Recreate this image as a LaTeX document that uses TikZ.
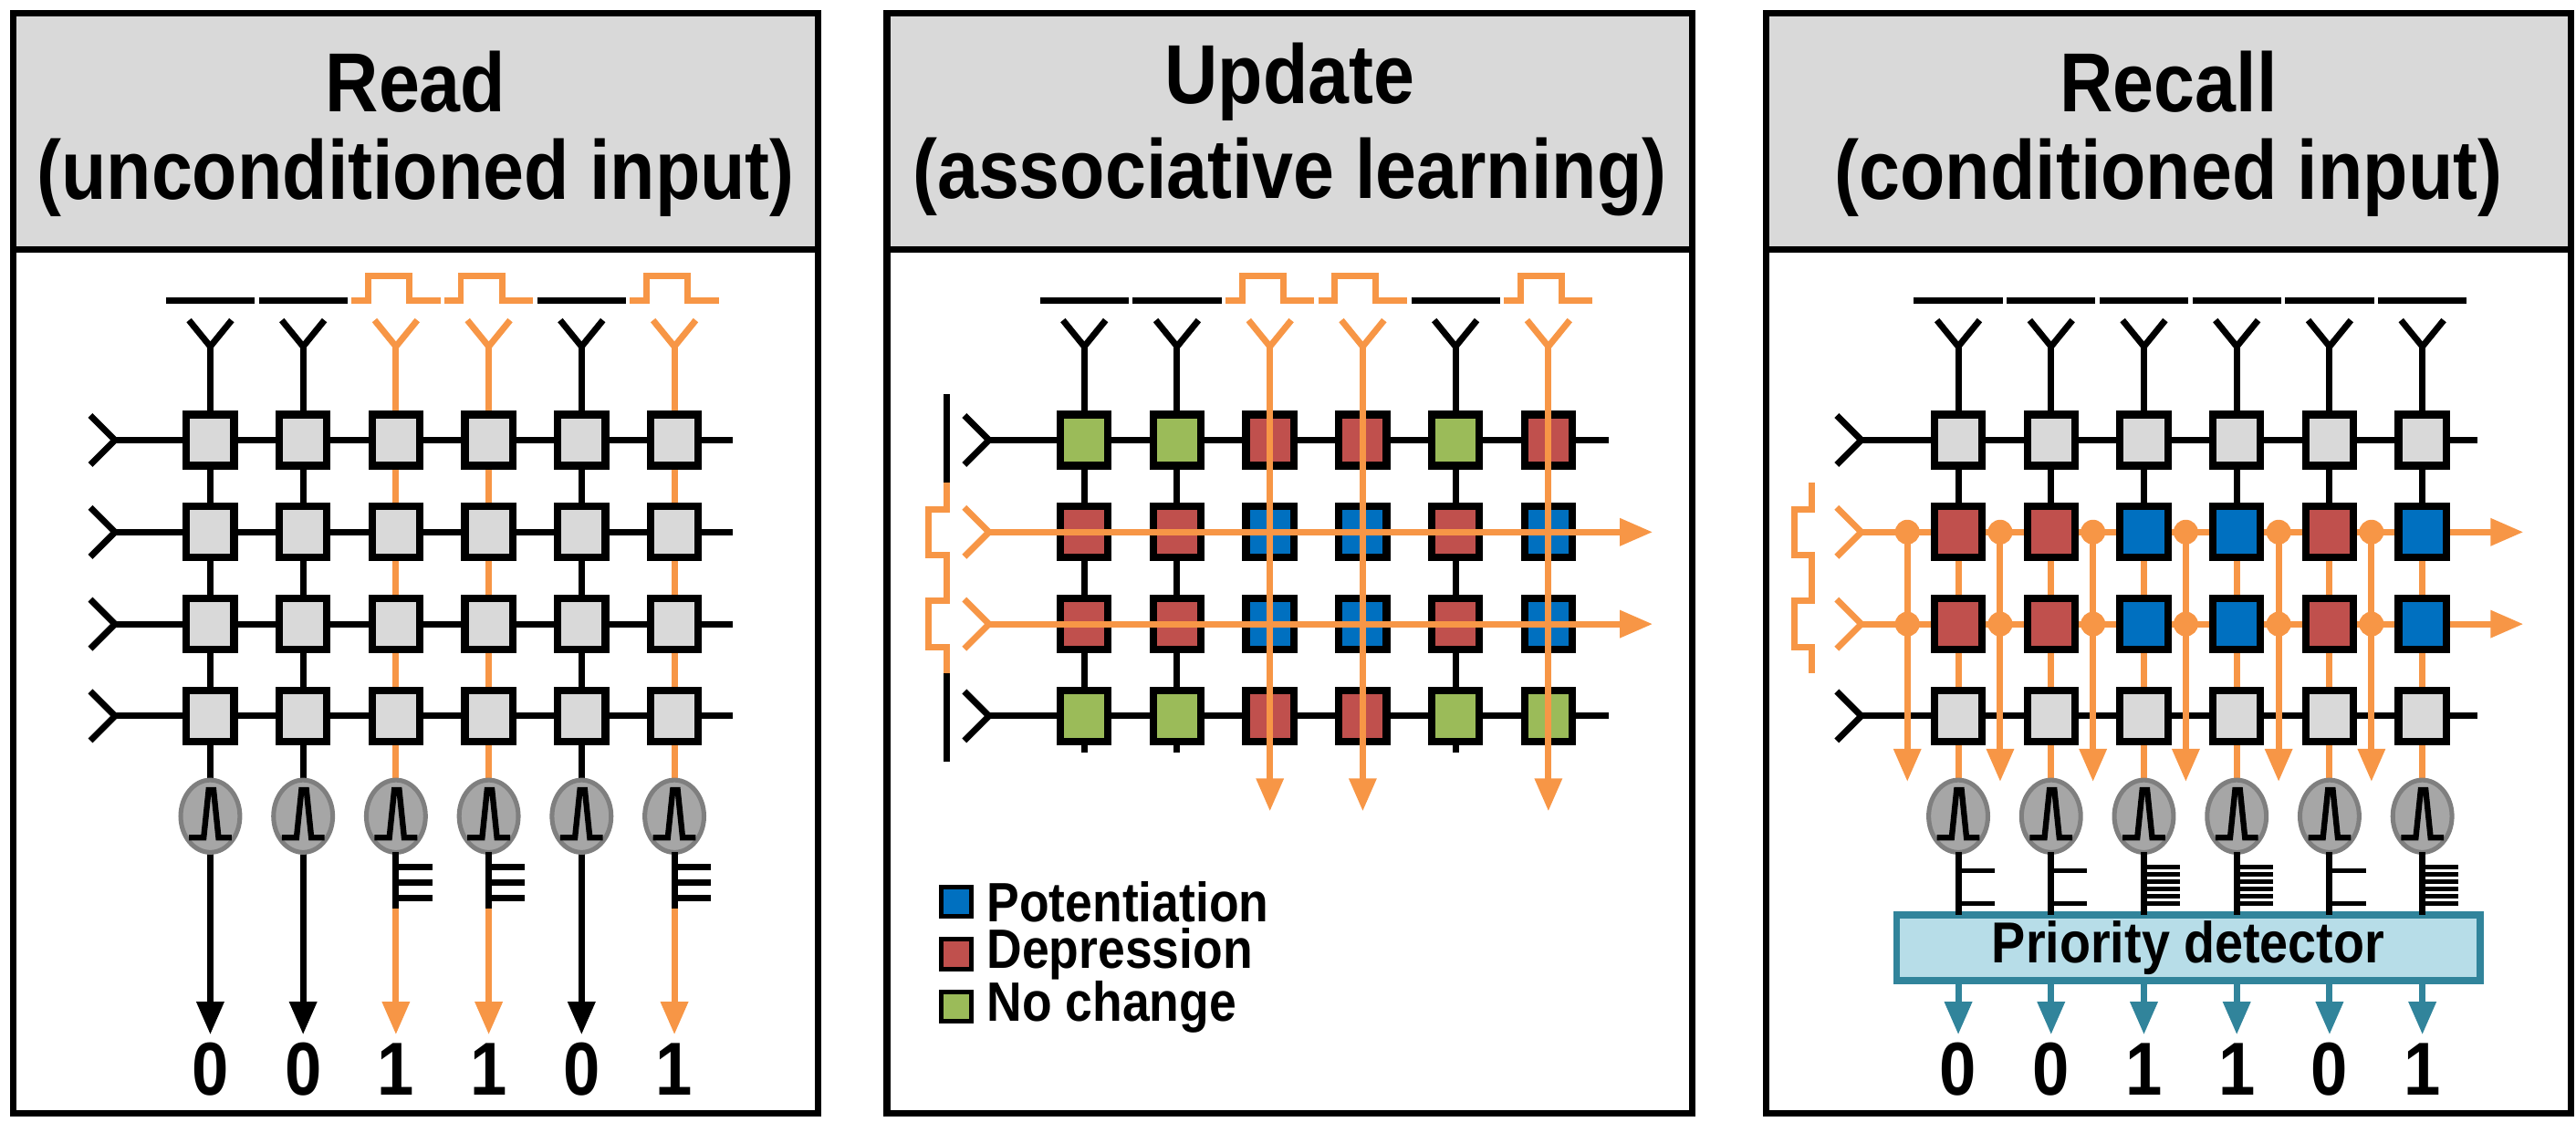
\documentclass[tikz,border=0pt]{standalone}
\usepackage{fontspec}
\setmainfont{Liberation Sans}[FakeStretch=0.88]
\usetikzlibrary{arrows.meta,shapes.geometric}
\definecolor{corange}{HTML}{F79646}
\definecolor{cred}{HTML}{C0504D}
\definecolor{cblue}{HTML}{0070C0}
\definecolor{cgreen}{HTML}{9BBB59}
\definecolor{cgray}{HTML}{D9D9D9}
\definecolor{ngray}{HTML}{A6A6A6}
\definecolor{ngrayd}{HTML}{7F7F7F}
\definecolor{pdfill}{HTML}{B7DDE8}
\definecolor{pdteal}{HTML}{31849B}
\newcommand{\Yant}[3]{\draw[wire,draw=#3] (#1-13,#2-16) -- (#1,#2) -- (#1+13,#2-16);}
\newcommand{\Rant}[3]{\draw[wire,draw=#3] (#1-15,#2-15) -- (#1,#2) -- (#1-15,#2+15);}
\newcommand{\spk}[2]{\draw[line width=1pt] (#1-13,#2+13) -- (#1-4,#2+13) -- (#1-1,#2-16) -- (#1+2,#2-16) -- (#1+5,#2+13) -- (#1+13,#2+13);}
\newcommand{\wave}[3]{\ifnum#3=1 \draw[wire,draw=corange] (#1-27,#2) -- (#1-17,#2) -- (#1-17,#2-15) -- (#1+8,#2-15) -- (#1+8,#2) -- (#1+27,#2);\else \draw[wire] (#1-27,#2) -- (#1+27,#2);\fi}
\newcommand{\lpulse}[3]{\draw[wire,draw=corange] (#1,#2-30) -- (#1,#2-14) -- (#1-11,#2-14) -- (#1-11,#2+14) -- (#1,#2+14) -- (#1,#2+30);}
\begin{document}
\begin{tikzpicture}[x=0.01cm,y=-0.01cm,
  box/.style={draw,line width=1.3pt,minimum width=0.29cm,minimum height=0.31cm,inner sep=0,rectangle},
  G/.style={fill=cgreen},R/.style={fill=cred},B/.style={fill=cblue},W/.style={fill=cgray},
  wire/.style={line width=1.1pt,line cap=butt},
  arr/.style={-{Triangle[length=0.2cm,width=0.16cm]}},
  neur/.style={ellipse,minimum width=0.36cm,minimum height=0.44cm,fill=ngray,draw=ngrayd,line width=0.8pt,inner sep=0},
  dig/.style={font=\bfseries\fontsize{13}{13}\selectfont,inner sep=0},
  ttl/.style={font=\bfseries\fontsize{14.5}{14.5}\selectfont,inner sep=0},
  leg/.style={font=\bfseries\fontsize{9.6}{9.6}\selectfont,anchor=west,inner sep=0},
  hdr/.style={fill=cgray,draw=black,line width=1.2pt},
  pnl/.style={draw=black,line width=1.2pt}]
\useasboundingbox (0,0) rectangle (1568,683);
% ---------- panels ----------
\foreach \L in {8,540,1075}{
  \draw[hdr] (\L,8) rectangle (\L+490,152);
  \draw[pnl] (\L,152) rectangle (\L+490,678);
}
\node[ttl] (t1) at (253,50) {Read};
\node[ttl] (s1) at (253,108) {(unconditioned input)};
\node[ttl] (t2) at (785,50) {Update};
\node[ttl] (s2) at (785,108) {(associative learning)};
\node[ttl] (t3) at (1320,50) {Recall};
\node[ttl] (s3) at (1320,108) {(conditioned input)};
% ================= READ =================
\foreach \r in {0,...,3}{
  \pgfmathsetmacro\ry{268+56*\r}
  \Rant{70}{\ry}{black}
  \coordinate (ra-\r) at (70,\ry);
  \coordinate (re-\r) at (446,\ry);
  \draw[wire] (ra-\r) -- (re-\r);
}
\foreach \k/\b in {0/0,1/0,2/1,3/1,4/0,5/1}{
  \pgfmathsetmacro\cx{128+56.5*\k}
  \ifnum\b=1 \def\col{corange}\else\def\col{black}\fi
  \wave{\cx}{183}{\b}
  \Yant{\cx}{211}{\col}
  \coordinate (rc-\k) at (\cx,211);
  \coordinate (ro-\k) at (\cx,630);
  \draw[wire,arr,draw=\col,fill=\col] (rc-\k) -- (ro-\k);
  \foreach \r in {0,...,3}{\node[box,W] (rb-\r-\k) at (\cx,268+56*\r) {};}
  \node[neur] (rn-\k) at (\cx,497) {};
  \spk{\cx}{497}
  \ifnum\b=1
    \draw[wire] (\cx,519) -- (\cx,553);
    \foreach \t in {528,537.5,547}{\draw[wire] (\cx,\t) -- (\cx+22,\t);}
  \fi
  \node[dig] (rd-\k) at (\cx,651) {\b};
}
% ================= UPDATE =================
\foreach \r in {0,3}{
  \pgfmathsetmacro\ry{268+56*\r}
  \Rant{602}{\ry}{black}
  \coordinate (ua-\r) at (602,\ry);
  \coordinate (ue-\r) at (979,\ry);
  \draw[wire] (ua-\r) -- (ue-\r);
  \draw[wire] (576,\ry-28) -- (576,\ry+28);
}
\foreach \k/\b in {0/0,1/0,2/1,3/1,4/0,5/1}{
  \pgfmathsetmacro\cx{660+56.5*\k}
  \wave{\cx}{183}{\b}
  \coordinate (uc-\k) at (\cx,211);
  \ifnum\b=0
    \Yant{\cx}{211}{black}
    \coordinate (uo-\k) at (\cx,458);
    \draw[wire] (uc-\k) -- (uo-\k);
  \else
    \Yant{\cx}{211}{corange}
  \fi
}
\foreach \r/\cl in {0/{G,G,R,R,G,R},1/{R,R,B,B,R,B},2/{R,R,B,B,R,B},3/{G,G,R,R,G,G}}{
  \foreach \c [count=\k from 0] in \cl{
    \node[box,\c] (ub-\r-\k) at (660+56.5*\k,268+56*\r) {};
  }
}
\foreach \r in {1,2}{
  \pgfmathsetmacro\ry{268+56*\r}
  \Rant{602}{\ry}{corange}
  \coordinate (ua-\r) at (602,\ry);
  \coordinate (ue-\r) at (1006,\ry);
  \draw[wire,arr,draw=corange,fill=corange] (ua-\r) -- (ue-\r);
  \lpulse{576}{\ry}{}
}
\foreach \k in {2,3,5}{
  \pgfmathsetmacro\cx{660+56.5*\k}
  \coordinate (uo-\k) at (\cx,494);
  \draw[wire,arr,draw=corange,fill=corange] (uc-\k) -- (uo-\k);
}
\node[box,B,line width=0.8pt,minimum width=0.18cm,minimum height=0.18cm] (lg1) at (582,549) {};
\node[box,R,line width=0.8pt,minimum width=0.18cm,minimum height=0.18cm] (lg2) at (582,581) {};
\node[box,G,line width=0.8pt,minimum width=0.18cm,minimum height=0.18cm] (lg3) at (582,613) {};
\node[leg] (lt1) at (600,549) {Potentiation};
\node[leg] (lt2) at (600,581) {Depression};
\node[leg] (lt3) at (600,613) {No change};
% ================= RECALL =================
\foreach \r in {0,3}{
  \pgfmathsetmacro\ry{268+56*\r}
  \Rant{1133}{\ry}{black}
  \coordinate (ca-\r) at (1133,\ry);
  \coordinate (ce-\r) at (1508,\ry);
  \draw[wire] (ca-\r) -- (ce-\r);
}
\foreach \r in {1,2}{
  \pgfmathsetmacro\ry{268+56*\r}
  \Rant{1133}{\ry}{corange}
  \coordinate (ca-\r) at (1133,\ry);
  \coordinate (ce-\r) at (1536,\ry);
  \draw[wire,arr,draw=corange,fill=corange] (ca-\r) -- (ce-\r);
  \lpulse{1103}{\ry}{}
}
\foreach \k/\b in {0/0,1/0,2/1,3/1,4/0,5/1}{
  \pgfmathsetmacro\cx{1192+56.5*\k}
  \wave{\cx}{183}{0}
  \Yant{\cx}{211}{black}
  \coordinate (cc-\k) at (\cx,211);
  \coordinate (cm-\k) at (\cx,324);
  \coordinate (cn-\k) at (\cx,476);
  \draw[wire] (cc-\k) -- (cm-\k);
  \draw[wire,draw=corange] (cm-\k) -- (cn-\k);
}
\foreach \r/\cl in {0/{W,W,W,W,W,W},1/{R,R,B,B,R,B},2/{R,R,B,B,R,B},3/{W,W,W,W,W,W}}{
  \foreach \c [count=\k from 0] in \cl{
    \node[box,\c] (cb-\r-\k) at (1192+56.5*\k,268+56*\r) {};
  }
}
\node[draw=pdteal,fill=pdfill,line width=1.2pt,minimum width=3.55cm,minimum height=0.40cm,inner sep=0,
  font=\bfseries\fontsize{10}{10}\selectfont] (pd) at (1332,577) {Priority detector};
\foreach \k/\b in {0/0,1/0,2/1,3/1,4/0,5/1}{
  \pgfmathsetmacro\cx{1192+56.5*\k}
  \pgfmathsetmacro\dx{\cx-31}
  \node[circle,fill=corange,minimum size=0.15cm,inner sep=0] (cd1-\k) at (\dx,324) {};
  \node[circle,fill=corange,minimum size=0.15cm,inner sep=0] (cd2-\k) at (\dx,380) {};
  \coordinate (cf-\k) at (\dx,476);
  \draw[wire,arr,draw=corange,fill=corange] (cd1-\k.center) -- (cf-\k);
  \node[neur] (cnn-\k) at (\cx,497) {};
  \spk{\cx}{497}
  \coordinate (cs-\k) at (\cx,519);
  \draw[wire] (cs-\k) -- (\cx,557);
  \ifnum\b=1
    \foreach \t in {528,532.4,536.8,541.2,545.6,550}{\draw[line width=0.8pt] (\cx,\t) -- (\cx+22,\t);}
  \else
    \foreach \t in {530,550}{\draw[line width=0.8pt] (\cx,\t) -- (\cx+22,\t);}
  \fi
  \coordinate (cp-\k) at (\cx,597);
  \coordinate (cq-\k) at (\cx,630);
  \draw[wire,arr,draw=pdteal,fill=pdteal] (cp-\k) -- (cq-\k);
  \node[dig] (cdg-\k) at (\cx,651) {\b};
}
\end{tikzpicture}
\end{document}
